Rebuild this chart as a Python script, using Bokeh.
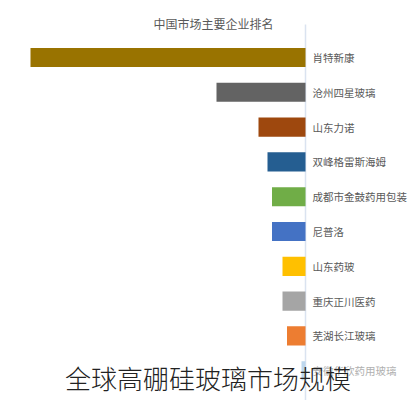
from bokeh.plotting import figure
from bokeh.models import ColumnDataSource, Range1d, Label
from bokeh.core.properties import value
from bokeh.embed import file_html
from bokeh.resources import INLINE

title_text = "中国市场主要企业排名"
caption_text = "全球高硼硅玻璃市场规模"
companies = ["肖特新康", "沧州四星玻璃", "山东力诺", "双峰格雷斯海姆", "成都市金鼓药用包装",
             "尼普洛", "山东药玻", "重庆正川医药", "芜湖长江玻璃", "安徽华欣药用玻璃"]
shares = [27.5, 8.9, 4.7, 3.8, 3.35, 3.35, 2.3, 2.3, 1.85, 0.4]
colors = ["#997300", "#636363", "#9E480E", "#255E91", "#70AD47",
          "#4472C4", "#FFC000", "#A5A5A5", "#ED7D31", "#BDD7EE"]
label_colors = ["#595959"] * 9 + ["#B0B0B0"]

FONT = "Noto Sans CJK SC"
LIGHT = "'Noto Sans CJK SC Light', 'Noto Sans CJK SC'"

src = ColumnDataSource(dict(
    y=list(range(len(companies))),
    name=companies,
    share=shares,
    color=colors,
    lcolor=label_colors,
    zero=[0] * len(companies),
))

p = figure(width=415, height=400, output_backend="svg", toolbar_location=None,
           x_range=Range1d(30.5, -11.0), y_range=Range1d(9.856, -1.638),
           min_border=0, outline_line_color=None)
p.axis.visible = False
p.grid.visible = False
p.background_fill_color = "white"
p.border_fill_color = "white"

# axis line
p.segment(x0=0, y0=-0.95, x1=0, y1=9.856, line_color="#DAE3F0", line_width=1.5)

p.hbar(y="y", left="zero", right="share", height=0.55, fill_color="color",
       line_color=None, source=src)

p.text(x="zero", y="y", text="name", x_offset=7, text_align="left",
       text_baseline="middle", text_font_size="10.5px", text_color="lcolor",
       text_font=value(FONT), source=src)

p.add_layout(Label(x=9.2, y=-0.977, text=title_text, text_align="center",
                   text_baseline="middle", text_font_size="12px",
                   text_color="#595959", text_font=FONT))
p.add_layout(Label(x=9.75, y=9.195, text=caption_text, text_align="center",
                   text_baseline="middle", text_font_size="26px",
                   text_color="#222222", text_font=LIGHT))

open("out.html", "w").write(file_html(p, INLINE))
